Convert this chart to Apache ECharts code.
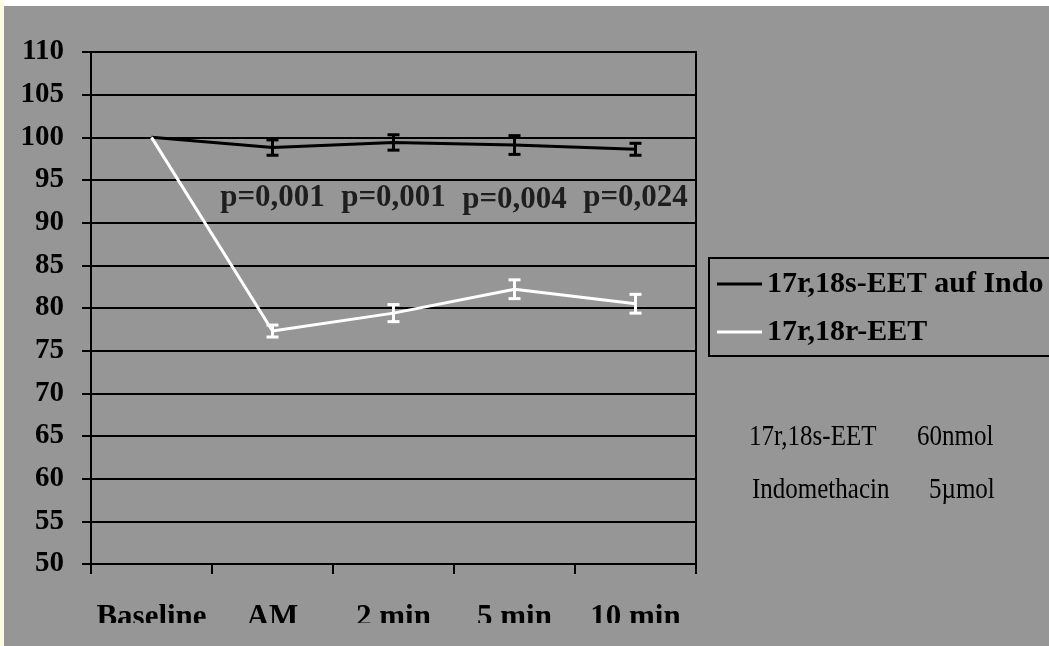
<!DOCTYPE html>
<html>
<head>
<meta charset="utf-8">
<script src="https://cdn.jsdelivr.net/npm/echarts@6/dist/echarts.min.js"></script>
<style>
html,body{margin:0;padding:0;background:#fff;}
#chart{width:1049px;height:646px;}
</style>
</head>
<body>
<div id="chart"></div>
<script>
// ---- data ----
var categories = ['Baseline', 'AM', '2 min', '5 min', '10 min'];
var yTicks = [50, 55, 60, 65, 70, 75, 80, 85, 90, 95, 100, 105, 110];
var seriesNames = ['17r,18s-EET auf Indo', '17r,18r-EET'];
var indoMean = [100, 98.8, 99.4, 99.1, 98.6];
var indoErr  = [0, 0.9, 0.9, 1.1, 0.7];
var rMean    = [100, 77.3, 79.4, 82.2, 80.5];
var rErr     = [0, 0.7, 1.0, 1.1, 1.1];
var pCategories = ['AM', '2 min', '5 min', '10 min'];
var pLabels  = ['p=0,001', 'p=0,001', 'p=0,004', 'p=0,024'];
var pY       = [92.9, 92.9, 92.6, 92.9];
var noteLeft  = ['17r,18s-EET', 'Indomethacin'];
var noteRight = ['60nmol', '5\u00b5mol'];

var BG = '#969696';
var serif = '"Liberation Serif","Times New Roman","DejaVu Serif",serif';

function errData(mean, err) {
  var out = [];
  for (var i = 0; i < mean.length; i++) {
    if (err[i] > 0) out.push([i, mean[i], err[i]]);
  }
  return out;
}

function errRender(color) {
  return function (params, api) {
    var idx = api.value(0), m = api.value(1), e = api.value(2);
    var top = api.coord([idx, m + e]);
    var bot = api.coord([idx, m - e]);
    var hw = 6;
    var st = { stroke: color, lineWidth: 3 };
    return {
      type: 'group',
      children: [
        { type: 'line', shape: { x1: top[0], y1: top[1], x2: bot[0], y2: bot[1] }, style: st },
        { type: 'line', shape: { x1: top[0] - hw, y1: top[1], x2: top[0] + hw, y2: top[1] }, style: st },
        { type: 'line', shape: { x1: bot[0] - hw, y1: bot[1], x2: bot[0] + hw, y2: bot[1] }, style: st }
      ]
    };
  };
}

var pData = pCategories.map(function (c, i) { return [c, pY[i]]; });

var graphics = [
  { type: 'rect', shape: { x: 0, y: 0, width: 1049, height: 6 }, style: { fill: '#ffffff' }, z: 100 },
  { type: 'rect', shape: { x: 0, y: 0, width: 4, height: 646 }, style: { fill: '#fbfbe6' }, z: 100 },
  { type: 'rect', shape: { x: 4, y: 623, width: 1045, height: 23 }, style: { fill: BG }, z: 99 }
];
var noteY = [437, 490];
var noteXL = [749, 752];
var noteXR = [917, 929];
for (var k = 0; k < noteLeft.length; k++) {
  graphics.push({ type: 'text', x: noteXL[k], y: noteY[k], scaleY: 1.18, z: 50,
    style: { text: noteLeft[k], font: '25px ' + serif, fill: '#000', verticalAlign: 'middle' } });
  graphics.push({ type: 'text', x: noteXR[k], y: noteY[k], scaleY: 1.18, z: 50,
    style: { text: noteRight[k], font: '25px ' + serif, fill: '#000', verticalAlign: 'middle' } });
}

var chart = echarts.init(document.getElementById('chart'), null, { renderer: 'canvas' });
chart.setOption({
  backgroundColor: BG,
  animation: false,
  grid: { left: 91, right: 353, top: 52, bottom: 82, show: true, borderColor: '#000', borderWidth: 2, backgroundColor: 'transparent' },
  xAxis: {
    type: 'category',
    data: categories,
    boundaryGap: true,
    axisLine: { lineStyle: { color: '#000', width: 2 } },
    axisTick: { show: true, interval: 0, length: 10, alignWithLabel: false, lineStyle: { color: '#000', width: 2 } },
    axisLabel: { interval: 0, hideOverlap: false, margin: 38, color: '#000', fontFamily: serif, fontWeight: 'bold', fontSize: 31 },
    splitLine: { show: false }
  },
  yAxis: {
    type: 'value',
    min: yTicks[0], max: yTicks[yTicks.length - 1], interval: 5,
    axisLine: { show: true, lineStyle: { color: '#000', width: 2 } },
    axisTick: { show: true, length: 9, lineStyle: { color: '#000', width: 2 } },
    axisLabel: { margin: 27, color: '#000', fontFamily: serif, fontWeight: 'bold', fontSize: 29 },
    splitLine: { show: true, lineStyle: { color: '#000', width: 2 } }
  },
  legend: {
    data: seriesNames,
    orient: 'vertical',
    left: 709, top: 258,
    padding: [9, 10, 7, 8],
    itemGap: 14,
    itemWidth: 45, itemHeight: 14,
    borderColor: '#000', borderWidth: 2,
    icon: 'path://M0,6 L45,6 L45,9 L0,9 Z',
    textStyle: { color: '#000', fontFamily: serif, fontWeight: 'bold', fontSize: 30, lineHeight: 34 }
  },
  series: [
    {
      name: seriesNames[0], type: 'line', data: indoMean, symbol: 'none',
      lineStyle: { color: '#000', width: 3 }, itemStyle: { color: '#000' }, z: 3
    },
    {
      name: seriesNames[1], type: 'line', data: rMean, symbol: 'none',
      lineStyle: { color: '#fff', width: 3 }, itemStyle: { color: '#fff' }, z: 3
    },
    {
      name: 'errIndo', type: 'custom', data: errData(indoMean, indoErr),
      renderItem: errRender('#000'), z: 4, silent: true
    },
    {
      name: 'errR', type: 'custom', data: errData(rMean, rErr),
      renderItem: errRender('#fff'), z: 4, silent: true
    },
    {
      name: 'p', type: 'scatter', data: pData, symbolSize: 0, silent: true, z: 5,
      label: {
        show: true, position: 'inside', color: '#000',
        fontFamily: serif, fontWeight: 'bold', fontSize: 31,
        formatter: function (p) { return pLabels[p.dataIndex]; }
      }
    }
  ],
  graphic: graphics
});
</script>
</body>
</html>
